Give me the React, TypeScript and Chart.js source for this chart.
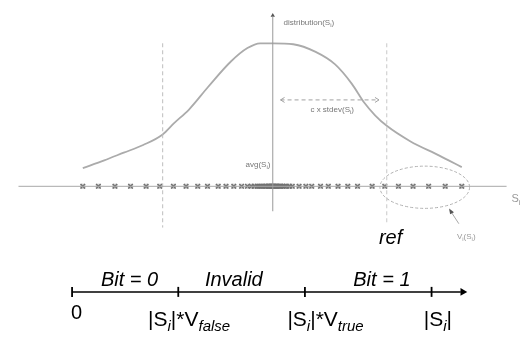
import React, { useEffect, useRef } from "react";
import { Chart, registerables } from "chart.js";

Chart.register(...registerables);

// distribution curve (diagram units: x → S_i value axis, y → down-positive)
const curveX = [78, 100, 120, 140, 160, 172, 187, 207, 230, 247, 260, 273, 294, 317, 337, 354, 367, 378, 390, 414, 444, 467];
const curveY = [168, 160, 152, 144, 133, 121, 107, 83, 57, 43, 38, 38, 39, 47, 60, 80, 100, 113, 124, 140, 155, 167];

// sample positions V_i(S_i) on the horizontal axis
const sampleX = [
  78, 94, 111, 127, 143, 157, 171, 184, 196, 206, 217, 225, 233, 241,
  247, 251, 254, 257, 259, 261, 263, 265, 266, 268, 269, 270, 271, 272, 273,
  274, 275, 276, 277, 278, 280, 281, 283, 285, 287, 290,
  293, 300, 307, 313, 322, 330, 340, 350, 360, 375, 388, 402, 417, 433, 450, 467,
];

// number line ticks (0, |Si|*Vfalse, |Si|*Vtrue, |Si|)
const numberTicks = [67, 176, 306, 436];
const numberLineEnd = 466;
const regionLabels = ["Bit = 0", "Invalid", "Bit = 1"];
const regionCenters = [126, 233, 385];

// reference markers
const avgX = 273;
const thresholdX = [160, 390];
const refEllipse = [429, 188, 46, 22];

type Run = { t: string; sub?: boolean };

const AXIS_Y = 187;
const NUM_Y = 297;

function drawRuns(ctx: CanvasRenderingContext2D, x: number, y: number, runs: Run[], main: string, sub: string, align: "left" | "center", color: string, subDy: number) {
  ctx.save();
  ctx.fillStyle = color;
  ctx.textBaseline = "alphabetic";
  ctx.textAlign = "left";
  let w = 0;
  for (const r of runs) {
    ctx.font = r.sub ? sub : main;
    w += ctx.measureText(r.t).width;
  }
  let cx = align === "center" ? x - w / 2 : x;
  for (const r of runs) {
    ctx.font = r.sub ? sub : main;
    ctx.fillText(r.t, cx, r.sub ? y + subDy : y);
    cx += ctx.measureText(r.t).width;
  }
  ctx.restore();
}

const overlay = {
  id: "overlay",
  afterDatasetsDraw(chart: any) {
    const ctx: CanvasRenderingContext2D = chart.ctx;
    const xs = chart.scales.x;
    const ys = chart.scales.y;
    const px = (v: number) => xs.getPixelForValue(v);
    const py = (v: number) => ys.getPixelForValue(v);

    // ellipse around ref samples
    ctx.save();
    ctx.strokeStyle = "#b0b0b0";
    ctx.lineWidth = 1;
    ctx.setLineDash([3, 2]);
    ctx.beginPath();
    const [ex, ey, erx, ery] = refEllipse;
    ctx.ellipse(px(ex), py(ey), px(ex + erx) - px(ex), Math.abs(py(ey + ery) - py(ey)), 0, 0, Math.PI * 2);
    ctx.stroke();
    ctx.restore();

    // stdev double arrow
    ctx.save();
    ctx.strokeStyle = "#a0a0a0";
    ctx.lineWidth = 1;
    ctx.setLineDash([4, 3]);
    const a0 = px(281), a1 = px(382), ay = py(97);
    ctx.beginPath();
    ctx.moveTo(a0, ay);
    ctx.lineTo(a1, ay);
    ctx.stroke();
    ctx.setLineDash([]);
    ctx.beginPath();
    ctx.moveTo(a0 + 4, ay - 2.5); ctx.lineTo(a0, ay); ctx.lineTo(a0 + 4, ay + 2.5);
    ctx.moveTo(a1 - 4, ay - 2.5); ctx.lineTo(a1, ay); ctx.lineTo(a1 - 4, ay + 2.5);
    ctx.stroke();
    ctx.restore();

    // V_i arrow
    ctx.save();
    ctx.strokeStyle = "#a8a8a8";
    ctx.fillStyle = "#555";
    ctx.lineWidth = 1;
    ctx.beginPath();
    ctx.moveTo(px(464), py(226));
    ctx.lineTo(px(455), py(212));
    ctx.stroke();
    ctx.beginPath();
    ctx.moveTo(px(454), py(210));
    ctx.lineTo(px(459), py(214));
    ctx.lineTo(px(455), py(216));
    ctx.closePath();
    ctx.fill();
    ctx.restore();

    // grey annotation labels
    const gMain = "8px 'Liberation Sans', Arial, sans-serif";
    const gSub = "6px 'Liberation Sans', Arial, sans-serif";
    drawRuns(ctx, px(284), py(19), [{ t: "distribution(S" }, { t: "i", sub: true }, { t: ")" }], gMain, gSub, "left", "#777", 2);
    drawRuns(ctx, px(334), py(110), [{ t: "c x stdev(S" }, { t: "i", sub: true }, { t: ")" }], gMain, gSub, "center", "#777", 2);
    drawRuns(ctx, px(245), py(167), [{ t: "avg(S" }, { t: "i", sub: true }, { t: ")" }], gMain, gSub, "left", "#777", 2);
    drawRuns(ctx, px(462), py(242), [{ t: "V" }, { t: "i", sub: true }, { t: "(S" }, { t: "i", sub: true }, { t: ")" }], gMain, gSub, "left", "#999", 2);
    drawRuns(ctx, px(518), py(203), [{ t: "S" }, { t: "i", sub: true }], "11px 'Liberation Sans', Arial, sans-serif", "8px 'Liberation Sans', Arial, sans-serif", "left", "#999", 3);

    // black labels
    const itMain = "italic 20px 'Liberation Sans', Arial, sans-serif";
    const upMain = "21px 'Liberation Sans', Arial, sans-serif";
    const itSub = "italic 15px 'Liberation Sans', Arial, sans-serif";
    drawRuns(ctx, px(382), py(247), [{ t: "ref" }], itMain, itSub, "left", "#000", 0);
    regionLabels.forEach((l, i) => {
      drawRuns(ctx, px(regionCenters[i]), py(291), [{ t: l }], itMain, itSub, "center", "#000", 0);
    });
    drawRuns(ctx, px(66), py(325), [{ t: "0" }], "20px 'Liberation Sans', Arial, sans-serif", itSub, "left", "#000", 0);
    drawRuns(ctx, px(145), py(333), [{ t: "|S" }, { t: "i", sub: true }, { t: "|*V" }, { t: "false", sub: true }], upMain, itSub, "left", "#000", 5);
    drawRuns(ctx, px(288), py(333), [{ t: "|S" }, { t: "i", sub: true }, { t: "|*V" }, { t: "true", sub: true }], upMain, itSub, "left", "#000", 5);
    drawRuns(ctx, px(428), py(333), [{ t: "|S" }, { t: "i", sub: true }, { t: "|" }], upMain, itSub, "left", "#000", 5);
  },
};

export default function App() {
  const ref = useRef<HTMLCanvasElement | null>(null);
  useEffect(() => {
    if (!ref.current) return;
    const line = (pts: { x: number; y: number }[], color: string, width: number, dash: number[] = []) => ({
      type: "line" as const,
      data: pts,
      borderColor: color,
      borderWidth: width,
      borderDash: dash,
      pointRadius: 0,
      fill: false,
      clip: false as any,
      tension: 0,
    });
    const chart = new Chart(ref.current, {
      type: "scatter",
      data: {
        datasets: [
          // horizontal S_i axis
          line([{ x: 12, y: AXIS_Y }, { x: 513, y: AXIS_Y }], "#a8a8a8", 1),
          // vertical distribution axis
          line([{ x: avgX, y: 213 }, { x: avgX, y: 10 }], "#999", 1),
          {
            type: "scatter",
            data: [{ x: avgX, y: 9 }],
            pointStyle: "triangle",
            pointRadius: 2.5,
            backgroundColor: "#555",
            borderColor: "#555",
            borderWidth: 0,
          } as any,
          // threshold dashed lines
          line([{ x: thresholdX[0], y: 38 }, { x: thresholdX[0], y: 230 }], "#bdbdbd", 1, [4, 3]),
          line([{ x: thresholdX[1], y: 38 }, { x: thresholdX[1], y: 225 }], "#c8c8c8", 1, [4, 3]),
          // distribution curve
          {
            ...line(curveX.map((x, i) => ({ x, y: curveY[i] })), "#ababab", 1.8),
            cubicInterpolationMode: "monotone",
          } as any,
          // samples
          {
            type: "scatter",
            data: sampleX.map((x) => ({ x, y: AXIS_Y })),
            pointStyle: "crossRot",
            pointRadius: 3.2,
            borderColor: "#707070",
            borderWidth: 1.4,
            clip: false,
          } as any,
          {
            type: "scatter",
            data: sampleX.map((x) => ({ x, y: AXIS_Y })),
            pointStyle: "rect",
            pointRadius: 3,
            borderColor: "rgba(140,140,140,0.5)",
            backgroundColor: "rgba(180,180,180,0.25)",
            borderWidth: 0.8,
            clip: false,
          } as any,
          // number line
          line([{ x: numberTicks[0], y: NUM_Y }, { x: numberLineEnd, y: NUM_Y }], "#000", 1.5),
          {
            type: "scatter",
            data: numberTicks.map((x) => ({ x, y: NUM_Y })),
            pointStyle: "line",
            rotation: 90,
            pointRadius: 5,
            borderColor: "#000",
            borderWidth: 1.8,
            clip: false,
          } as any,
          {
            type: "scatter",
            data: [{ x: numberLineEnd + 2, y: NUM_Y }],
            pointStyle: "triangle",
            rotation: 90,
            pointRadius: 4.5,
            backgroundColor: "#000",
            borderColor: "#000",
            borderWidth: 0,
            clip: false,
          } as any,
        ],
      },
      options: {
        animation: false,
        responsive: false,
        devicePixelRatio: 1,
        layout: { padding: 0 },
        plugins: { legend: { display: false }, tooltip: { enabled: false } },
        events: [],
        scales: {
          x: { type: "linear", min: 0, max: 528, display: false },
          y: { type: "linear", min: 0, max: 339, reverse: true, display: false },
        },
      },
      plugins: [overlay],
    });
    return () => chart.destroy();
  }, []);
  return (
    <div style={{ position: "absolute", left: 0, top: 0, width: 528, height: 339, background: "#fff" }}>
      <canvas ref={ref} width={528} height={339} style={{ display: "block" }} />
    </div>
  );
}
